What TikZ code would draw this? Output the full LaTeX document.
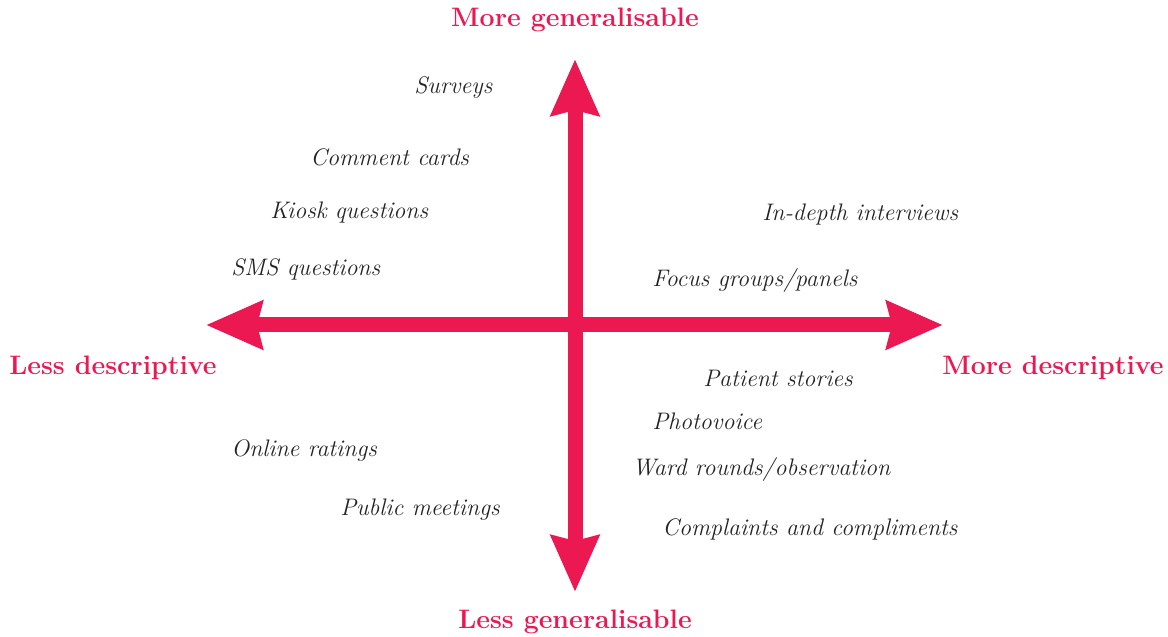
\documentclass[tikz,border=0pt]{standalone}
\usetikzlibrary{arrows.meta}
\definecolor{axispink}{RGB}{236,24,82}
\definecolor{methodgray}{RGB}{35,35,35}
\tikzset{
	axislabel/.style={text=axispink,font=\fontsize{15.2}{18}\selectfont\bfseries,inner sep=0pt},
	method/.style={text=methodgray,font=\fontsize{13.6}{16}\selectfont\itshape,anchor=west,inner sep=0pt},
	bigarrow/.style={draw=axispink,line width=0.3cm,
		{Stealth[length=1.12cm,width=0.94cm,inset=0.1cm]}-{Stealth[length=1.12cm,width=0.94cm,inset=0.1cm]}}
}
\begin{document}
\begin{tikzpicture}[x=1cm,y=1cm]
	\useasboundingbox (-11.5,-6.24) rectangle (11.86,6.5);
	% ends of the two axes
	\coordinate (west) at (-7.38,0);
	\coordinate (east) at (7.36,0);
	\coordinate (north) at (0,5.32);
	\coordinate (south) at (0,-5.34);
	\draw[bigarrow] (west)--(east);
	\draw[bigarrow] (south)--(north);
	% axis labels
	\node[axislabel] (moregen) at (0,6.1) {More generalisable};
	\node[axislabel] (lessgen) at (0,-5.94) {Less generalisable};
	\node[axislabel] (lessdesc) at (-9.24,-0.86) {Less descriptive};
	\node[axislabel] (moredesc) at (9.56,-0.86) {More descriptive};
	% methods, upper left
	\node[method] (surveys) at (-3.22,4.74) {Surveys};
	\node[method] (cards) at (-5.3,3.36) {Comment cards};
	\node[method] (kiosk) at (-6.1,2.24) {Kiosk questions};
	\node[method] (sms) at (-6.88,1.12) {SMS questions};
	% upper right
	\node[method] (interviews) at (3.74,2.2) {In-depth interviews};
	\node[method] (focus) at (1.54,0.88) {Focus groups/panels};
	% lower right
	\node[method] (stories) at (2.56,-1.06) {Patient stories};
	\node[method] (photo) at (1.54,-1.92) {Photovoice};
	\node[method] (ward) at (1.14,-2.9) {Ward rounds/observation};
	\node[method] (complaints) at (1.74,-4.08) {Complaints and compliments};
	% lower left
	\node[method] (ratings) at (-6.88,-2.52) {Online ratings};
	\node[method] (meetings) at (-4.7,-3.7) {Public meetings};
\end{tikzpicture}
\end{document}
